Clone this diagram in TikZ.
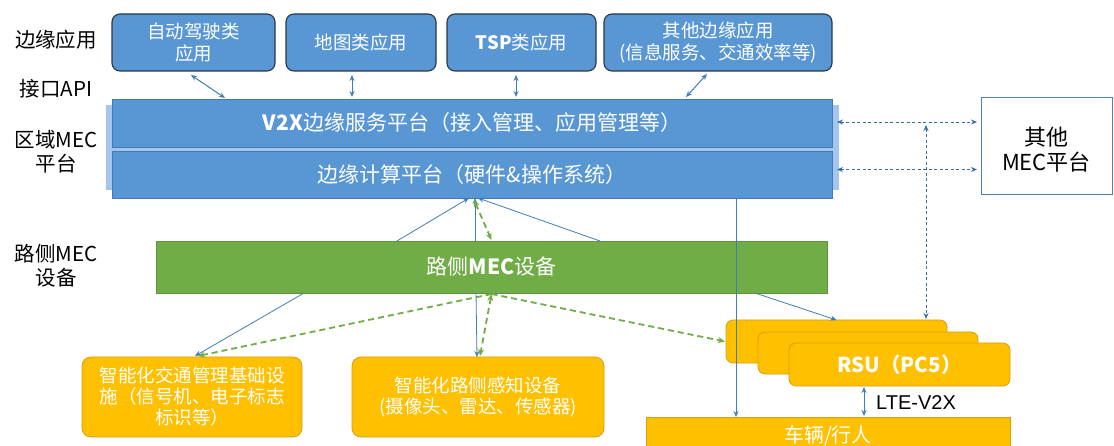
\documentclass[tikz,border=0pt]{standalone}
\usepackage{fontspec}
\setmainfont{Noto Sans CJK SC}
\newfontfamily\arialish{Liberation Sans}
\usetikzlibrary{arrows.meta,calc}
\definecolor{mblue}{RGB}{88,150,212}
\definecolor{appborder}{RGB}{40,55,72}
\definecolor{barborder}{RGB}{70,120,180}
\definecolor{panelblue}{RGB}{165,198,236}
\definecolor{mgreen}{RGB}{112,173,71}
\definecolor{greenborder}{RGB}{92,150,56}
\definecolor{myellow}{RGB}{255,192,0}
\definecolor{yborder}{RGB}{214,160,20}
\definecolor{lineblue}{RGB}{65,125,185}
\definecolor{dashblue}{RGB}{50,110,170}
\definecolor{otherborder}{RGB}{80,130,175}
\tikzset{
  box/.style={anchor=north west, inner sep=0pt, outer sep=0pt, align=center},
  app/.style={box, fill=mblue, draw=appborder, line width=1.1pt, rounded corners=8pt, text=white, font=\fontsize{18.5}{21.5}\selectfont},
  bar/.style={box, fill=mblue, draw=barborder, line width=0.6pt, text=white, font=\fontsize{21}{24}\selectfont},
  panel/.style={box, fill=panelblue, draw=none},
  greenbar/.style={box, fill=mgreen, draw=greenborder, line width=0.6pt, text=white, font=\fontsize{21}{24}\selectfont},
  ybox/.style={box, fill=myellow, draw=yborder, line width=0.8pt, rounded corners=9pt, text=white, font=\fontsize{18.5}{21}\selectfont},
  rsubox/.style={box, fill=myellow, draw=yborder, line width=0.8pt, rounded corners=7pt, text=white, font=\fontsize{20.5}{23}\selectfont},
  vehbox/.style={box, fill=myellow, draw=yborder, line width=0.8pt, text=white, font=\fontsize{20}{23}\selectfont},
  otherbox/.style={box, fill=white, draw=otherborder, line width=0.9pt},
  lab/.style={align=center, inner sep=0pt, font=\fontsize{20.5}{24}\selectfont},
  tipb/.tip={Stealth[length=6pt,width=5pt]},
  barrow/.style={draw=lineblue, line width=0.8pt, -{tipb}},
  dblarrow/.style={draw=lineblue, line width=1pt, {tipb}-{tipb}},
  gdash/.style={draw=mgreen, line width=1.8pt, dash pattern=on 6pt off 4pt, -{Stealth[length=7pt,width=6pt]}},
  gdashdbl/.style={draw=mgreen, line width=1.8pt, dash pattern=on 6pt off 4pt, {Stealth[length=7pt,width=6pt]}-{Stealth[length=7pt,width=6pt]}},
  bdash/.style={draw=dashblue, line width=0.9pt, dash pattern=on 3pt off 2.5pt, {tipb}-{tipb}}
}
\begin{document}
\begin{tikzpicture}[x=1pt,y=-1pt]
\useasboundingbox (0,0) rectangle (1114,446);
\fill[white] (0,0) rectangle (1114,446);

% left labels
\node[lab] (l1) at (56,40) {边缘应用};
\node[lab] (l2) at (56,89) {接口API};
\node[lab] (l3) at (56,152) {区域MEC\\平台};
\node[lab] (l4) at (56,266) {路侧MEC\\设备};

% top application boxes
\node[app, minimum width=163pt, minimum height=57pt] (a1) at (112,14) {自动驾驶类\\应用};
\node[app, minimum width=150pt, minimum height=57pt] (a2) at (286,14) {地图类应用};
\node[app, minimum width=149pt, minimum height=57pt] (a3) at (447,14) {\textbf{TSP}类应用};
\node[app, minimum width=228pt, minimum height=57pt] (a4) at (604,14) {其他边缘应用\\(信息服务、交通效率等)};

% regional MEC platform
\node[panel, minimum width=733pt, minimum height=85pt] (pn) at (106,105) {};
\node[bar, minimum width=720pt, minimum height=48pt] (v2x) at (112,99) {\textbf{V2X}边缘服务平台（接入管理、应用管理等）};
\node[bar, minimum width=720pt, minimum height=47pt] (bar2) at (112,151) {边缘计算平台（硬件\&操作系统）};

% other MEC
\node[otherbox, minimum width=131pt, minimum height=97pt] (other) at (981,97) {};
\node[align=center, inner sep=0pt, font=\fontsize{22}{25}\selectfont] (othertxt) at ($(other.center)+(0,4)$) {其他\\MEC平台};

% API arrows
\draw[dblarrow] ($(a1.south)+(-2.5,4)$) -- ($(v2x.north west)+(113,-1)$);
\draw[dblarrow] ($(a2.south)+(-9,4)$) -- ($(a2.south |- v2x.north)+(-9,-2)$);
\draw[dblarrow] ($(a3.south)+(-5.5,4)$) -- ($(a3.south |- v2x.north)+(-5.5,-2)$);
\draw[dblarrow] ($(a4.south)+(-11,3)$) -- ($(v2x.north west)+(574,-2)$);

% roadside MEC
\node[greenbar, minimum width=671pt, minimum height=52pt] (gb) at (156,241) {路侧\textbf{MEC}设备};

% yellow boxes
\node[ybox, minimum width=220pt, minimum height=80pt] (y1) at (82,357) {智能化交通管理基础设\\施（信号机、电子标志\\标识等）};
\node[ybox, minimum width=252pt, minimum height=80pt] (y2) at (352,357) {智能化路侧感知设备\\(摄像头、雷达、传感器)};

\node[rsubox, minimum width=221pt, minimum height=43pt] (rsua) at (726,320) {};
\node[rsubox, minimum width=220pt, minimum height=42pt] (rsub) at (758,332) {};
\node[rsubox, minimum width=221pt, minimum height=43pt] (rsuc) at (789,343) {\textbf{RSU（PC5）}};

\node[vehbox, minimum width=364pt, minimum height=38pt] (veh) at (646,417) {车辆/行人};

% green bar to computing platform
\draw[barrow] ($(gb.north west)+(241,0)$) -- ($(bar2.south)+(-3,0)$);
\draw[barrow] ($(gb.north)+(-16.5,0)$) -- ($(bar2.south)+(3,0)$);
\draw[barrow] ($(gb.north west)+(444,0)$) -- ($(bar2.south)+(6,0)$);
\draw[gdashdbl] ($(bar2.south)+(2,2)$) -- ($(gb.north)+(0,-1)$);

% green bar to devices
\draw[barrow] ($(gb.south west)+(148,0)$) -- ($(y1.north)+(3,-1)$);
\draw[gdash] ($(gb.south)+(0,1)$) -- ($(y1.north)+(6,-1)$);
\draw[barrow] ($(gb.south)+(-15.5,0)$) -- ($(y2.north)+(-1,0)$);
\draw[gdashdbl] ($(gb.south)+(0,1)$) -- ($(y2.north)+(2,-1)$);
\draw[gdash] ($(gb.south)+(0,1)$) -- ($(rsua.west)+(-1,0)$);
\draw[barrow] ($(gb.south east)+(-72,0)$) -- (rsua.north);

% computing platform straight down to vehicles
\draw[barrow] ($(bar2.south east)+(-96,0)$) -- ($(bar2.south east |- veh.north)+(-96,0)$);

% LTE-V2X
\draw[dblarrow] ($(rsuc.south west)+(75,1)$) -- ($(rsuc.south west |- veh.north)+(75,-1)$);
\node[anchor=west, inner sep=0pt, font=\arialish\fontsize{20}{22}\selectfont] (lte) at ($(rsuc.south west)+(87,17)$) {LTE-V2X};

% links to other MEC platform
\draw[bdash] ($(v2x.east)+(5,-1)$) -- ($(v2x.east -| other.west)+(-4,-1)$);
\draw[bdash] ($(bar2.east)+(5,-5)$) -- ($(bar2.east -| other.west)+(-4,-5)$);
\coordinate (vtop) at (926,125);
\draw[bdash] (vtop) -- ($(vtop |- rsua.north)+(0,-1)$);
\end{tikzpicture}
\end{document}
